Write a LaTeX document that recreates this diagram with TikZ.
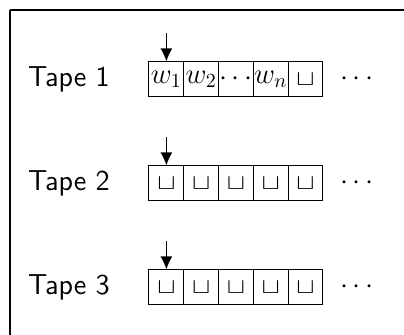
\documentclass[tikz,border=0pt]{standalone}
\usetikzlibrary{arrows.meta}
\begin{document}
\begin{tikzpicture}[x=0.5pt,y=-0.5pt,
  cell/.style={draw, line width=0.5pt, rectangle, minimum width=17.4pt,
    minimum height=17.5pt, inner sep=0pt, font=\fontsize{14.4}{17}\selectfont},
  tapelabel/.style={font=\sffamily\fontsize{14.4}{17}\selectfont, inner sep=0pt},
  dotsnode/.style={font=\fontsize{14.4}{17}\selectfont, inner sep=0pt},
  headarrow/.style={line width=0.8pt, -{Latex[length=6.5pt,width=6pt]}},
  frame/.style={line width=1pt}]
\useasboundingbox (0,0) rectangle (404,335);
% open frame: top rule and left rule
\coordinate (fa) at (10,10);
\coordinate (fb) at (404,10);
\coordinate (fc) at (10,335);
\draw[frame] (fb) -- (fa.center);
\draw[line width=0.6pt] (fa) -- (fc);
\newcommand{\blanksym}{\raisebox{-0.5ex}{\scalebox{0.95}[0.75]{$\sqcup$}}}
% tapes
\foreach \t/\yy in {1/79.5, 2/183.5, 3/287.5} {
  \node[tapelabel] (lab\t) at (69,\yy) {Tape \t};
  \node[dotsnode] (dots\t) at (357,\yy) {$\cdots$};
  \coordinate (hd\t) at (166.4,\yy-46.5);
}
\foreach \i/\s in {1/$w_1$, 2/$w_2$, 3/$\cdots$, 4/$w_n$, 5/\blanksym} {
  \node[cell] (t1c\i) at ({149+34.8*(\i-0.5)},79.5) {\s};
}
\foreach \t/\yy in {2/183.5, 3/287.5} {
  \foreach \i in {1,...,5} {
    \node[cell] (t\t c\i) at ({149+34.8*(\i-0.5)},\yy) {\blanksym};
  }
}
\foreach \t in {1,2,3} {
  \draw[headarrow] (hd\t) -- (t\t c1.north);
}
\end{tikzpicture}
\end{document}
